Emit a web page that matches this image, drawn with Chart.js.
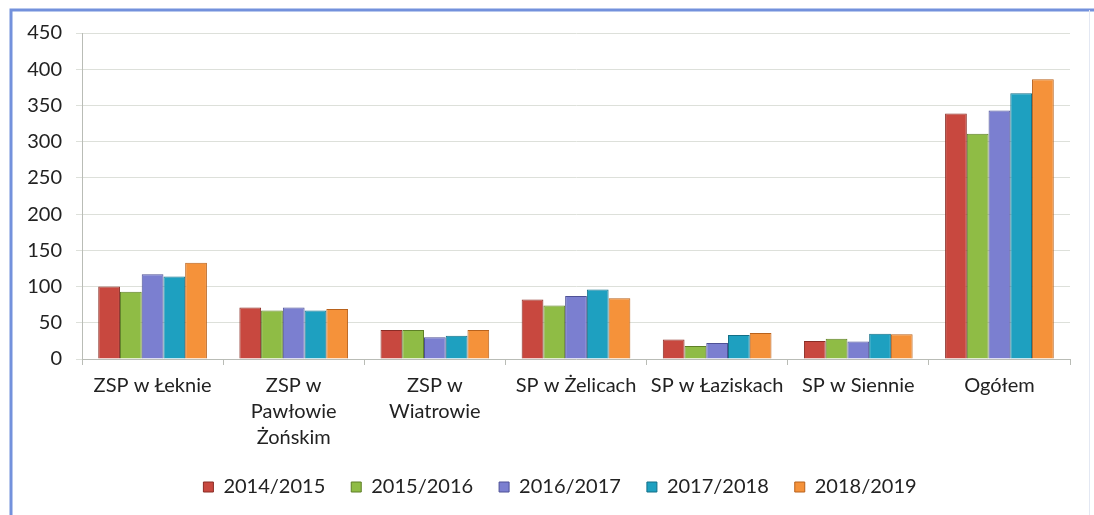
<!DOCTYPE html>
<html>
<head>
<meta charset="utf-8">
<script src="https://cdn.jsdelivr.net/npm/chart.js@4/dist/chart.umd.min.js"></script>
<style>
html,body{margin:0;padding:0;background:#fff;}
#wrap{width:1094px;height:515px;position:relative;}
</style>
</head>
<body>
<div id="wrap"><canvas id="c" width="1094" height="515"></canvas></div>
<script>
const categories = [
  "ZSP w Łeknie",
  ["ZSP w", "Pawłowie", "Żońskim"],
  ["ZSP w", "Wiatrowie"],
  "SP w Żelicach",
  "SP w Łaziskach",
  "SP w Siennie",
  "Ogółem"
];
const seriesNames = ["2014/2015", "2015/2016", "2016/2017", "2017/2018", "2018/2019"];
const v2014 = [100, 71, 40, 82, 27, 25, 339];
const v2015 = [93, 67, 40, 74, 18, 28, 311];
const v2016 = [117, 71, 30, 87, 22, 24, 343];
const v2017 = [114, 67, 32, 96, 33, 35, 367];
const v2018 = [133, 69, 40, 84, 36, 34, 386];
const yTicks = [0, 50, 100, 150, 200, 250, 300, 350, 400, 450];

const fills = ["#c8483f", "#8fbc45", "#7b7fd0", "#1ea0c0", "#f5923a"];
const edges = ["#8a2c25", "#5e7f26", "#4e5196", "#126f87", "#b8621c"];
const values = [v2014, v2015, v2016, v2017, v2018];

const frame = {
  id: 'frame',
  beforeDraw(chart) {
    const ctx = chart.ctx;
    ctx.save();
    ctx.strokeStyle = '#7391dc';
    ctx.lineWidth = 3;
    ctx.beginPath();
    ctx.moveTo(11, 515);
    ctx.lineTo(11, 10);
    ctx.lineTo(1094, 10);
    ctx.stroke();
    ctx.strokeStyle = '#e3e8f3';
    ctx.lineWidth = 1;
    ctx.beginPath();
    ctx.moveTo(1089.5, 10);
    ctx.lineTo(1089.5, 515);
    ctx.stroke();
    ctx.restore();
  }
};

const legendShift = {
  id: 'legendShift',
  afterLayout(chart) {
    if (chart.legend) {
      chart.legend.left += 15;
      chart.legend.right += 15;
    }
  }
};

new Chart(document.getElementById('c'), {
  type: 'bar',
  data: {
    labels: categories,
    datasets: seriesNames.map((n, i) => ({
      label: n,
      data: values[i],
      backgroundColor: fills[i],
      borderColor: edges[i],
      borderWidth: 1,
      categoryPercentage: 0.77,
      barPercentage: 1.0
    }))
  },
  options: {
    responsive: false,
    animation: false,
    layout: { padding: { left: 20, top: 33, right: 24, bottom: 8 } },
    plugins: {
      legend: {
        position: 'bottom',
        labels: {
          font: { family: 'Lato', size: 20 },
          color: '#222',
          boxWidth: 10,
          boxHeight: 10,
          padding: 26
        }
      },
      tooltip: { enabled: false }
    },
    scales: {
      x: {
        afterFit(s) { s.height = 92; },
        grid: { display: true, offset: true, drawOnChartArea: false, tickLength: 6, color: '#b9bcb6' },
        border: { color: '#b9bcb6' },
        ticks: {
          font: { family: 'Lato', size: 20, lineHeight: 1.3 },
          color: '#222',
          maxRotation: 0,
          autoSkip: false,
          padding: 8
        }
      },
      y: {
        min: 0, max: 450,
        afterFit(s) { s.width = 62; },
        afterBuildTicks(s) { s.ticks = yTicks.map(v => ({ value: v })); },
        grid: { color: '#dde0da', tickLength: 6 },
        border: { color: '#b9bcb6' },
        ticks: {
          font: { family: 'Lato', size: 20 },
          color: '#222',
          padding: 14
        }
      }
    }
  },
  plugins: [frame, legendShift]
});
</script>
</body>
</html>
